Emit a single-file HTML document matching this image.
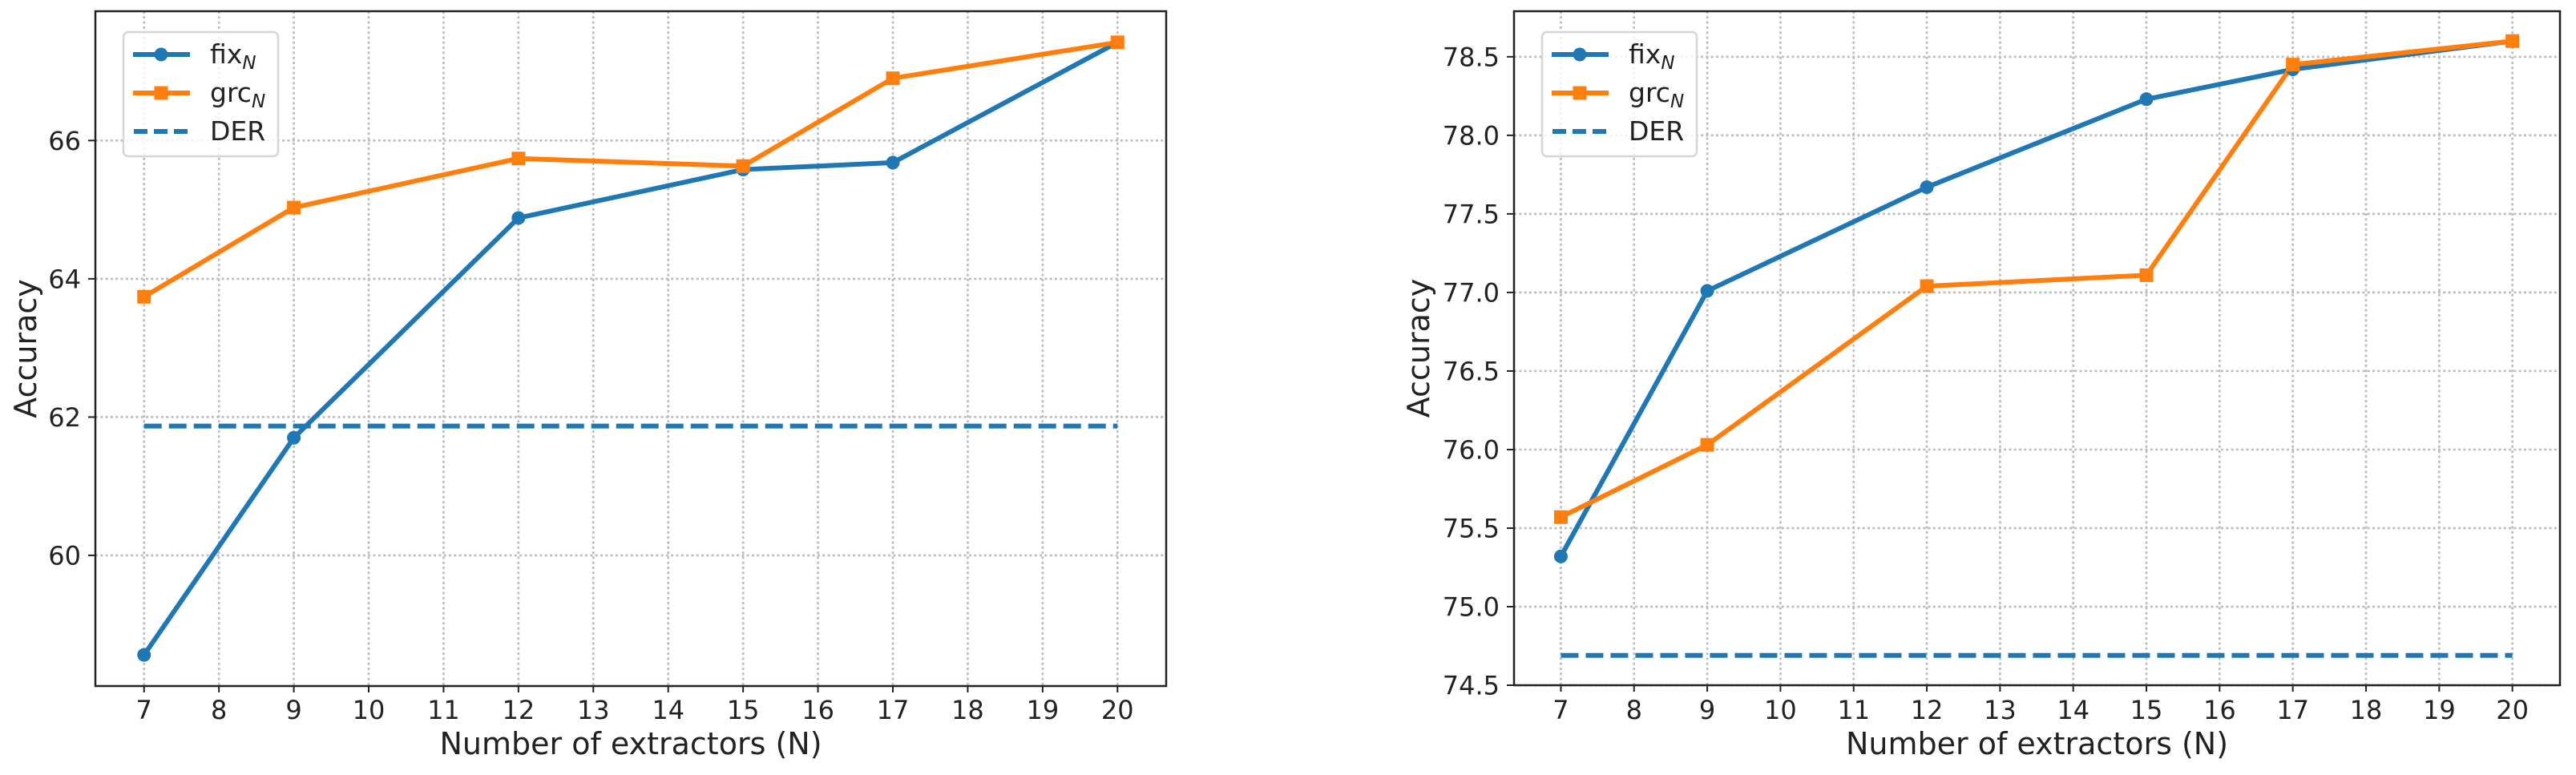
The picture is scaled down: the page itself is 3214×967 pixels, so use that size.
<!DOCTYPE html>
<html><head><meta charset="utf-8"><style>
html,body{margin:0;padding:0;background:#fff;}
svg{display:block;font-family:"DejaVu Sans","Liberation Sans",sans-serif;}
</style></head><body>
<svg id="fig" width="3214" height="967" viewBox="0 0 3214 967"></svg>
<script>
const categories = [7, 9, 12, 15, 17, 20];
const xTicks = [7,8,9,10,11,12,13,14,15,16,17,18,19,20];
const leftFix = [58.56, 61.70, 64.88, 65.58, 65.68, 67.42];
const leftGrc = [63.74, 65.03, 65.74, 65.63, 66.90, 67.42];
const leftDer = 61.87;
const leftYTicks = [60, 62, 64, 66];
const leftYTickLabels = ["60", "62", "64", "66"];
const rightFix = [75.32, 77.01, 77.67, 78.23, 78.42, 78.60];
const rightGrc = [75.57, 76.03, 77.04, 77.11, 78.45, 78.60];
const rightDer = 74.69;
const rightYTicks = [74.5, 75.0, 75.5, 76.0, 76.5, 77.0, 77.5, 78.0, 78.5];
const rightYTickLabels = ["74.5","75.0","75.5","76.0","76.5","77.0","77.5","78.0","78.5"];

const NS = "http://www.w3.org/2000/svg";
const svg = document.getElementById('fig');
function mk(tag, attrs, parent){const e=document.createElementNS(NS,tag);for(const k in attrs)e.setAttribute(k,attrs[k]);(parent||svg).appendChild(e);return e;}

function panel(id, box, xDom, yDom, fix, grc, der, yTicks, yLabels){
  const g = mk('g',{});
  
  
  const X = v => box.l + (v - xDom[0])/(xDom[1]-xDom[0])*(box.r-box.l);
  const Y = v => box.b - (v - yDom[0])/(yDom[1]-yDom[0])*(box.b-box.t);
  xTicks.forEach(t=>{
    const l = mk('line',{x1:X(t),x2:X(t),y1:box.t,y2:box.b,stroke:'#bdbdbd','stroke-width':2.7,'stroke-dasharray':'3,3.3'},g);
    
    
    mk('line',{x1:X(t),x2:X(t),y1:box.b,y2:box.b+8,stroke:'#222','stroke-width':2},g);
    const tx = mk('text',{x:X(t),y:897,'font-size':32,'text-anchor':'middle',fill:'#222'},g);
    tx.textContent = t;
    
    
  });
  yTicks.forEach((t,i)=>{
    const l = mk('line',{x1:box.l,x2:box.r,y1:Y(t),y2:Y(t),stroke:'#bdbdbd','stroke-width':2.7,'stroke-dasharray':'3,3.3'},g);
    
    
    mk('line',{x1:box.l-9,x2:box.l,y1:Y(t),y2:Y(t),stroke:'#222','stroke-width':2},g);
    const tx = mk('text',{x:box.l-18,y:Y(t)+11.5,'font-size':32,'text-anchor':'end',fill:'#222'},g);
    tx.textContent = yLabels[i];
    
    
  });
  const d = mk('line',{x1:X(categories[0]),x2:X(categories[categories.length-1]),y1:Y(der),y2:Y(der),stroke:'#1f77b4','stroke-width':6,'stroke-dasharray':'22,9'},g);
  
  
  const fp = mk('polyline',{points:categories.map((c,i)=>X(c)+','+Y(fix[i])).join(' '),fill:'none',stroke:'#1f77b4','stroke-width':6,'stroke-linejoin':'round'},g);
  
  
  const gp = mk('polyline',{points:categories.map((c,i)=>X(c)+','+Y(grc[i])).join(' '),fill:'none',stroke:'#ff7f0e','stroke-width':6,'stroke-linejoin':'round'},g);
  
  
  categories.forEach((c,i)=>{
    const m = mk('circle',{cx:X(c),cy:Y(fix[i]),r:8.5,fill:'#1f77b4'},g);
    
    
  });
  categories.forEach((c,i)=>{
    const m = mk('rect',{x:X(c)-8.5,y:Y(grc[i])-8.5,width:17,height:17,fill:'#ff7f0e'},g);
    
    
  });
  const f = mk('rect',{x:box.l,y:box.t,width:box.r-box.l,height:box.b-box.t,fill:'none',stroke:'#222','stroke-width':2.5},g);
  
  
  const xt = mk('text',{x:(box.l+box.r)/2,y:941,'font-size':38,'text-anchor':'middle',fill:'#222'},g);
  xt.textContent = 'Number of extractors (N)';
  
  
  const yx = box.yTitleX, yc=(box.t+box.b)/2;
  const yt = mk('text',{x:yx,y:yc,'font-size':38,'text-anchor':'middle',fill:'#222',transform:`rotate(-90 ${yx} ${yc}) translate(0 0)`},g);
  yt.setAttribute('x', yx); yt.setAttribute('y', yc);
  yt.textContent = 'Accuracy';
  
  
  const lg = mk('g',{},g);
  
  
  const lx = box.l+35, ly = 40;
  mk('rect',{x:lx,y:ly,width:193,height:155,rx:6,fill:'#fff','fill-opacity':0.8,stroke:'#d6d6d6','stroke-width':2.5},lg);
  const rows = [['fix','#1f77b4','circle'],['grc','#ff7f0e','square'],['DER','#1f77b4','dash']];
  rows.forEach((r,i)=>{
    const cy = 68+i*48;
    const e = mk('g',{},lg);
    
    
    if(r[2]==='dash'){mk('line',{x1:lx+13,x2:lx+81,y1:cy,y2:cy,stroke:r[1],'stroke-width':6,'stroke-dasharray':'17,8'},e);}
    else{mk('line',{x1:lx+12,x2:lx+83,y1:cy,y2:cy,stroke:r[1],'stroke-width':6},e);
      if(r[2]==='circle')mk('circle',{cx:lx+47,cy:cy,r:8.5,fill:r[1]},e);
      else mk('rect',{x:lx+38.5,y:cy-8.5,width:17,height:17,fill:r[1]},e);}
    const t = mk('text',{x:lx+108,y:cy+11,'font-size':33,fill:'#222'},e);
    if(r[0]==='DER'){t.textContent='DER';}
    else{t.textContent=r[0];const s=mk('tspan',{'font-size':23,'font-style':'italic',dy:7},t);s.textContent='N';}
  });
}
panel('left',{l:119,r:1455,t:14,b:856,yTitleX:45},[6.35,20.65],[58.11,67.87],leftFix,leftGrc,leftDer,leftYTicks,leftYTickLabels);
panel('right',{l:1889,r:3194,t:14,b:855,yTitleX:1783},[6.36,20.65],[74.5,78.79],rightFix,rightGrc,rightDer,rightYTicks,rightYTickLabels);
</script>
</body></html>
